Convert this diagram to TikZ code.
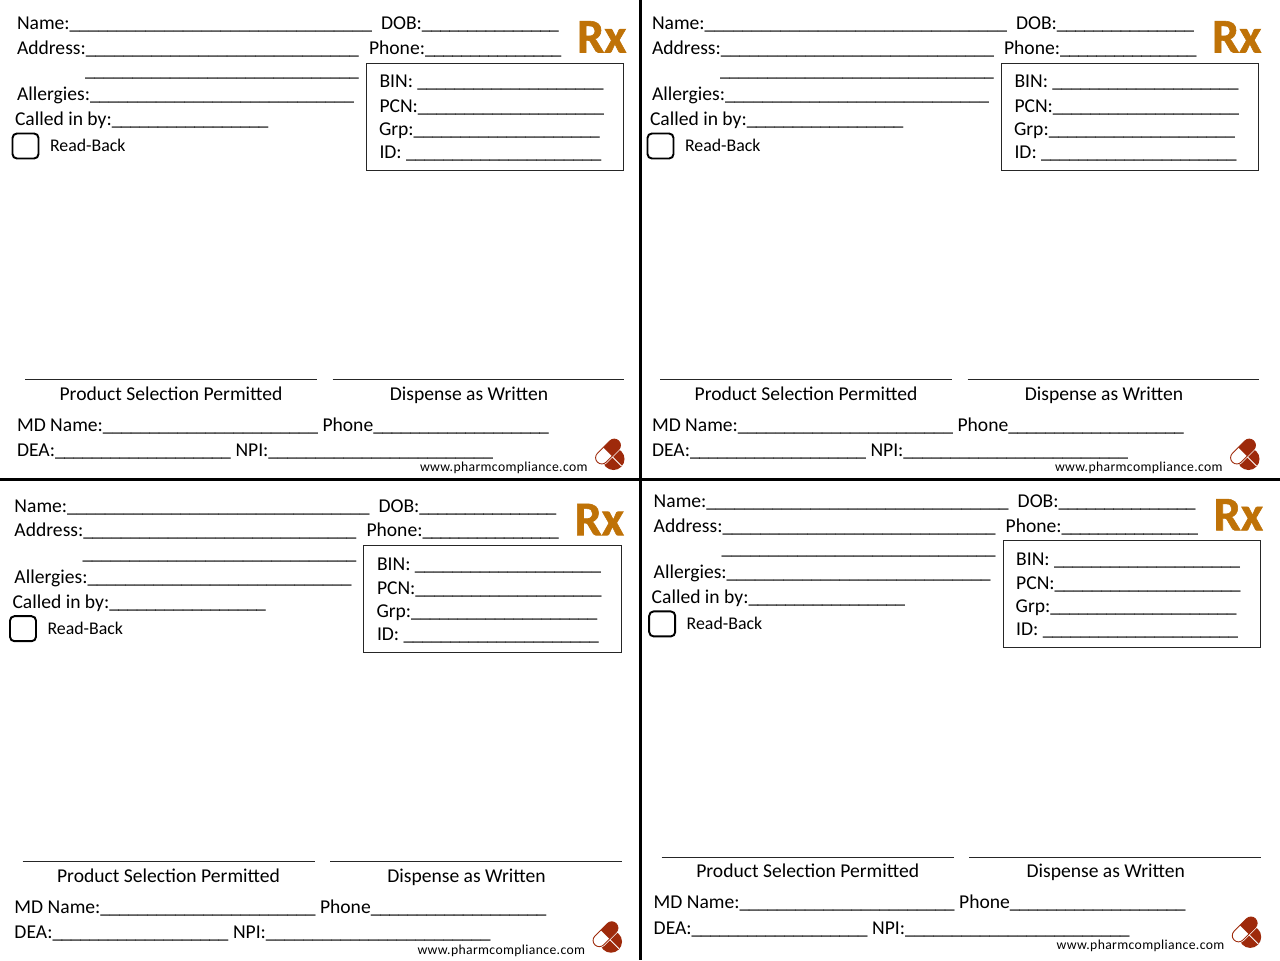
\documentclass[tikz,border=0pt]{standalone}
\usepackage{fontspec}
\setmainfont{Carlito}
\newfontfamily\webfont[LetterSpace=2.6]{Carlito}
\newfontfamily\rxfont[BoldFeatures={FakeBold=1.2}]{Carlito}
\newlength\pxu \setlength\pxu{0.02cm}
\newlength\uwd \newlength\lwd \newlength\rem \newlength\gapk
\newcount\ucnt
% label followed by underscores, total width #2 px
\newcommand\lu[2]{\settowidth\lwd{#1}\settowidth\uwd{\_}%
  \setlength\rem{#2\pxu}\addtolength\rem{-\lwd}%
  \ucnt=\numexpr\rem/\uwd+1\relax
  \setlength\gapk{\dimexpr(\rem-\ucnt\uwd)/(\ucnt-1)\relax}%
  #1\uloop}
\newcommand\uloop{\_\advance\ucnt by -1 \ifnum\ucnt>0 \kern\gapk\expandafter\uloop\fi}
\definecolor{rxorange}{HTML}{BF7207}
\definecolor{pillred}{HTML}{9E2A0B}
\tikzset{
  lbl/.style={anchor=base west,inner sep=0pt,outer sep=0pt,font=\fontsize{11.15pt}{13pt}\selectfont,text=black},
  captxt/.style={anchor=base,inner sep=0pt,outer sep=0pt,font=\fontsize{11.15pt}{13pt}\selectfont,text=black},
  smalltxt/.style={lbl,font=\fontsize{10.15pt}{12pt}\selectfont},
  web/.style={lbl,font=\webfont\fontsize{7.8pt}{10pt}\selectfont},
  rxmark/.style={anchor=base west,inner sep=0pt,outer sep=0pt,font=\rxfont\fontsize{27.5pt}{30pt}\selectfont\bfseries,text=rxorange},
  checkbox/.style={draw=black,line width=1.1pt,rounded corners=2.5pt,minimum width=0.52cm,minimum height=0.5cm,inner sep=0pt},
  infobox/.style={draw=black!85,line width=0.55pt,minimum width=5.15cm,minimum height=2.14cm,inner sep=0pt},
  signline/.style={draw=black!85,line width=0.45pt},
  divider/.style={draw=black,line width=1.7pt},
}
\newcommand\rxcard[3]{%
\begin{scope}[shift={(#2,#3)}]
  \node[lbl] (#1name) at (17,29.3) {\lu{Name:}{355}};
  \node[lbl] (#1addr) at (17,54.2) {\lu{Address:}{342}};
  \node[lbl] (#1addrb) at (85,76.7) {\lu{}{274}};
  \node[lbl] (#1allergy) at (17,100.6) {\lu{Allergies:}{337}};
  \node[lbl] (#1called) at (15,125.7) {\lu{Called in by:}{253.5}};
  \node[checkbox] (#1check) at (25.5,146) {};
  \node[smalltxt] (#1read) at (50,151.3) {Read-Back};
  \node[lbl] (#1dob) at (381,29.3) {\lu{DOB:}{178}};
  \node[lbl] (#1phone) at (369,54.2) {\lu{Phone:}{192.5}};
  \node[rxmark] (#1rx) at (577,52.5) {Rx};
  \node[infobox] (#1box) at (495,116.5) {};
  \node[lbl] (#1bin) at (379.5,87.5) {\lu{BIN: }{224}};
  \node[lbl] (#1pcn) at (379.5,112) {\lu{PCN:}{224.5}};
  \node[lbl] (#1grp) at (379,135) {\lu{Grp:}{221}};
  \node[lbl] (#1id) at (379.5,158) {\lu{ID: }{222}};
  \coordinate (#1sa) at (25,379); \coordinate (#1sb) at (317,379);
  \coordinate (#1sc) at (332.5,379); \coordinate (#1sd) at (624,379);
  \draw[signline] (#1sa) -- (#1sb);
  \draw[signline] (#1sc) -- (#1sd);
  \node[captxt] (#1psp) at (171,400) {Product Selection Permitted};
  \node[captxt] (#1daw) at (469,400) {Dispense as Written};
  \node[lbl] (#1md) at (17,431) {\lu{MD Name:}{301}};
  \node[lbl] (#1mdp) at (322.5,431) {\lu{Phone}{226.5}};
  \node[lbl] (#1dea) at (17,456.2) {\lu{DEA:}{214}};
  \node[lbl] (#1npi) at (235.5,456.2) {\lu{NPI:}{257.5}};
  \node[web] (#1web) at (420,471.3) {www.pharmcompliance.com};
  % pill logo
  \fill[pillred] (613.5,459) circle (11);
  \draw[white,line width=0.5pt] (609.5,454) -- (621.5,466);
  \begin{scope}[shift={(608,451.5)},rotate=45]
    \draw[white,line width=1.3pt,rounded corners=3.5pt] (-15,-6.2) rectangle (15,6.2);
    \draw[pillred,line width=0.5pt,fill=white,rounded corners=3.5pt] (-15,-6.2) rectangle (15,6.2);
    \fill[pillred] (-0.5,-6.2) -- (8.8,-6.2) arc (-90:90:6.2) -- (-0.5,6.2) -- cycle;
  \end{scope}
\end{scope}}
\begin{document}
\begin{tikzpicture}[x=0.02cm,y=-0.02cm]
  \useasboundingbox (0,0) rectangle (1280,960);
  \fill[white] (0,0) rectangle (1280,960);
  \rxcard{a}{0}{0}
  \rxcard{b}{635}{0}
  \rxcard{c}{-2.5}{482.7}
  \rxcard{d}{636.7}{477.9}
  \coordinate (vt) at (640,0); \coordinate (vb) at (640,960);
  \coordinate (hl) at (0,479.5); \coordinate (hr) at (1280,479.5);
  \draw[divider] (vt) -- (vb);
  \draw[divider] (hl) -- (hr);
\end{tikzpicture}
\end{document}
